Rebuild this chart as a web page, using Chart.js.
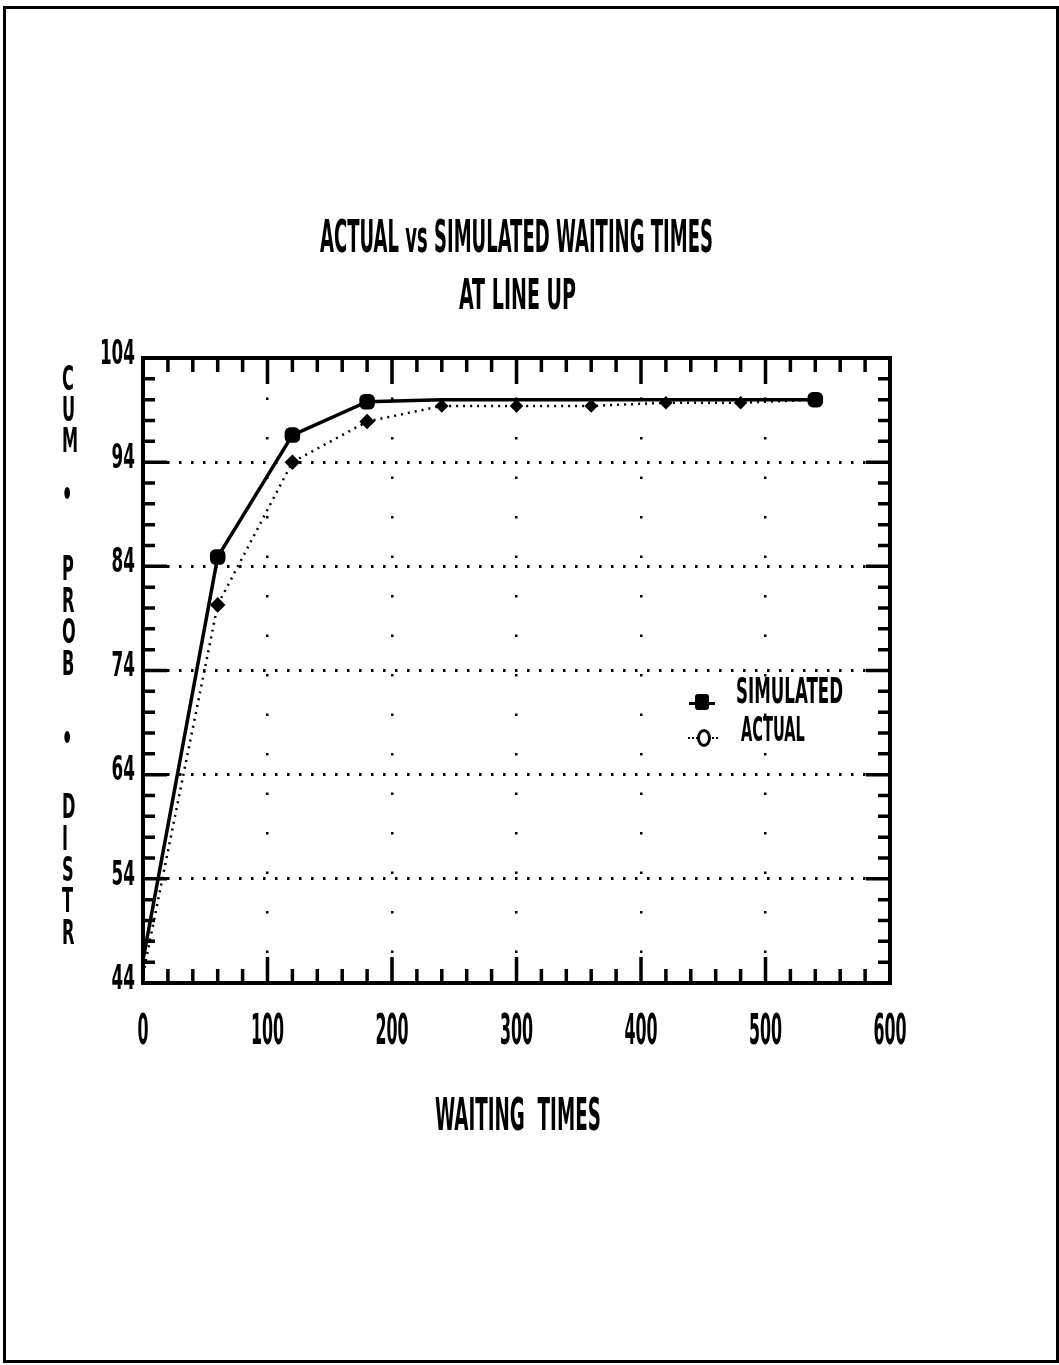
<!DOCTYPE html>
<html>
<head>
<meta charset="utf-8">
<script src="https://cdn.jsdelivr.net/npm/chart.js@4.4.1/dist/chart.umd.min.js"></script>
<style>
  body { margin: 0; background: #fff; }
  #page { position: relative; width: 1059px; height: 1365px; overflow: hidden; }
  #frame { position: absolute; left: 3px; top: 6px; width: 1050px; height: 1351px; border: 3px solid #000; }
  canvas { position: absolute; left: 0; top: 0; }
  .txt {
    position: absolute; white-space: pre; color: #000;
    font-family: "DejaVu Sans Condensed", "Liberation Sans Narrow", "DejaVu Sans", sans-serif;
    font-weight: bold; line-height: 1; transform-origin: 0 0;
  }
  .mark { position: absolute; background: #000; }
</style>
</head>
<body>
<div id="page">
  <div id="frame"></div>
  <canvas id="chart" width="1059" height="1365"></canvas>

  <div class="txt" data-box="320,226,393,32" style="font-size:44px">ACTUAL vs SIMULATED WAITING TIMES</div>
  <div class="txt" data-box="459,284,117,31" style="font-size:44px">AT LINE UP</div>
  <div class="txt" data-box="435,1104,166,32" style="font-size:44px">WAITING  TIMES</div>

  <!-- legend -->
  <div class="mark" style="left:689px;top:702px;width:26px;height:3px"></div>
  <div class="mark" style="left:695px;top:694px;width:14px;height:16px;border-radius:3px"></div>
  <div class="txt" data-box="736,682,107,26" style="font-size:40px">SIMULATED</div>
  <div style="position:absolute;left:688px;top:737px;width:30px;border-top:2px dotted #000"></div>
  <div style="position:absolute;left:697px;top:729px;width:8px;height:12px;border:3px solid #000;border-radius:50%;background:#fff"></div>
  <div class="txt" data-box="741,721,64,25" style="font-size:40px">ACTUAL</div>

  <div id="ytitle"></div>
</div>

<script>
// ---- data ----
const waitTimes = [0, 60, 120, 180, 240, 300, 360, 420, 480, 540];
const simulated = [46.2, 84.9, 96.6, 99.8, 100, 100, 100, 100, 100, 100];
const actual = [44.8, 80.3, 94.0, 97.9, 99.4, 99.4, 99.4, 99.7, 99.7, 100];

const xTickLabels = [0, 100, 200, 300, 400, 500, 600];
const yTickLabels = [44, 54, 64, 74, 84, 94, 104];
const yTitleLetters = ["C", "U", "M", "•", "P", "R", "O", "B", "•", "D", "I", "S", "T", "R"];

const FONT = '"DejaVu Sans Condensed", "Liberation Sans Narrow", "DejaVu Sans", sans-serif';

// squeeze html text into its box (the old plotter font is tall and narrow)
document.querySelectorAll(".txt[data-box]").forEach((el) => {
  const [x, y, w, h] = el.dataset.box.split(",").map(Number);
  const fs = parseFloat(el.style.fontSize);
  const cap = fs * 0.73;
  const sy = h / cap;
  const sx = w / el.offsetWidth;
  el.style.left = x + "px";
  el.style.top = (y - fs * 0.25 * sy) + "px";
  el.style.transform = `scale(${sx}, ${sy})`;
});

// y axis title: stacked letters
const yTitleTops = [362, 393, 424, 478, 552, 584, 615, 647, 722, 790, 822, 853, 884, 916];
const yt = document.getElementById("ytitle");
yTitleLetters.forEach((ch, i) => {
  const d = document.createElement("div");
  d.className = "txt";
  d.textContent = ch;
  d.style.fontSize = "30px";
  d.style.left = "62px";
  d.style.top = yTitleTops[i] + "px";
  d.style.transform = "scale(0.6, 1.1)";
  yt.appendChild(d);
});

function squashedText(ctx, text, x, y, size, sx, align) {
  ctx.save();
  ctx.font = `bold ${size}px ${FONT}`;
  ctx.textBaseline = "middle";
  ctx.textAlign = align;
  ctx.translate(x, y);
  ctx.scale(sx, 1);
  ctx.fillText(text, 0, 0);
  ctx.restore();
}

// frame, inward tick marks on all four sides and tick labels
const framePlugin = {
  id: "frame",
  afterDraw(chart) {
    const { ctx, chartArea: a } = chart;
    const xs = chart.scales.x;
    const ys = chart.scales.y;
    ctx.save();
    ctx.strokeStyle = "#000";
    ctx.lineWidth = 4;
    ctx.strokeRect(a.left, a.top, a.right - a.left, a.bottom - a.top);

    ctx.lineWidth = 3.5;
    for (let v = 44; v <= 104; v += 2) {
      const py = ys.getPixelForValue(v);
      const len = (v - 44) % 10 === 0 ? 24 : 12;
      ctx.beginPath();
      ctx.moveTo(a.left, py); ctx.lineTo(a.left + len, py);
      ctx.moveTo(a.right, py); ctx.lineTo(a.right - len, py);
      ctx.stroke();
    }
    for (let v = 0; v <= 600; v += 20) {
      const px = xs.getPixelForValue(v);
      const len = v % 100 === 0 ? 26 : 14;
      ctx.beginPath();
      ctx.moveTo(px, a.bottom); ctx.lineTo(px, a.bottom - len);
      ctx.moveTo(px, a.top); ctx.lineTo(px, a.top + len);
      ctx.stroke();
    }
    ctx.fillStyle = "#000";
    xTickLabels.forEach((v) => {
      squashedText(ctx, String(v), xs.getPixelForValue(v), a.bottom + 50, 42, 0.42, "center");
    });
    yTickLabels.forEach((v) => {
      squashedText(ctx, String(v), a.left - 8, ys.getPixelForValue(v) - 3, 34, 0.55, "right");
    });
    ctx.restore();
  },
};

new Chart(document.getElementById("chart").getContext("2d"), {
  type: "line",
  data: {
    labels: waitTimes,
    datasets: [
      {
        label: "SIMULATED",
        data: waitTimes.map((t, i) => ({ x: t, y: simulated[i] })),
        borderColor: "#000",
        backgroundColor: "#000",
        borderWidth: 3.5,
        pointStyle: "rectRounded",
        pointRadius: [0, 7, 7, 7, 0, 0, 0, 0, 0, 7],
        tension: 0,
        clip: false,
      },
      {
        label: "ACTUAL",
        data: waitTimes.map((t, i) => ({ x: t, y: actual[i] })),
        borderColor: "#000",
        backgroundColor: "#000",
        borderWidth: 2.5,
        borderDash: [2, 5],
        pointStyle: "rectRot",
        pointRadius: [0, 6, 6, 6, 5, 5, 5, 5, 5, 0],
        tension: 0,
        clip: false,
      },
    ],
  },
  options: {
    responsive: false,
    animation: false,
    layout: { padding: { left: 0, top: 358, right: 169, bottom: 0 } },
    plugins: { legend: { display: false }, tooltip: { enabled: false } },
    scales: {
      x: {
        type: "linear",
        min: 0,
        max: 600,
        ticks: { stepSize: 100, display: false },
        grid: { color: "#000", lineWidth: 2.5, drawTicks: false },
        border: { display: false, dash: [2.5, 37] },
        afterFit: (s) => { s.height = 1365 - 983; },
      },
      y: {
        min: 44,
        max: 104,
        ticks: { stepSize: 10, display: false },
        grid: { color: "#000", lineWidth: 3, drawTicks: false },
        border: { display: false, dash: [2.5, 9.5] },
        afterFit: (s) => { s.width = 143; },
      },
    },
  },
  plugins: [framePlugin],
});
</script>
</body>
</html>
